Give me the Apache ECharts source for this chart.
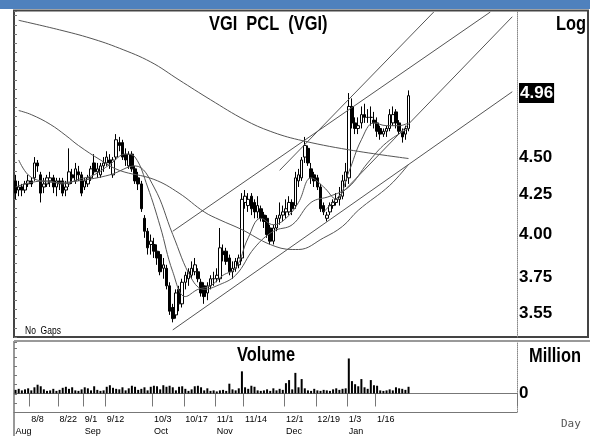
<!DOCTYPE html>
<html lang="en">
<head>
<meta charset="UTF-8"/>
<title>VGI PCL (VGI)</title>
<script src="https://cdn.jsdelivr.net/npm/echarts@6.0.0/dist/echarts.min.js"></script>
<style>
html, body { margin: 0; padding: 0; background: #fff; }
#main { width: 597px; height: 436px; }
</style>
</head>
<body>
<div id="main"></div>
<script type="text/javascript">
// trading days shown on the chart
var dates = [
  '8/1','8/2','8/3','8/4','8/5','8/8','8/9','8/10','8/11','8/15','8/16','8/17','8/18','8/19','8/22','8/23','8/24','8/25','8/26','8/29','8/30','8/31',
  '9/1','9/2','9/5','9/6','9/7','9/8','9/9','9/12','9/13','9/14','9/15','9/16','9/19','9/20','9/21','9/22','9/23','9/26','9/27','9/28','9/29','9/30',
  '10/3','10/4','10/5','10/6','10/7','10/10','10/11','10/12','10/13','10/14','10/17','10/18','10/19','10/20','10/21','10/25','10/26','10/27','10/28','10/31',
  '11/1','11/2','11/3','11/4','11/7','11/8','11/9','11/10','11/11','11/14','11/15','11/16','11/17','11/18','11/21','11/22','11/23','11/24','11/25','11/28','11/29','11/30',
  '12/1','12/2','12/6','12/7','12/8','12/9','12/13','12/14','12/15','12/16','12/19','12/20','12/21','12/22','12/23','12/26','12/27','12/28','12/29','12/30',
  '1/3','1/4','1/5','1/6','1/9','1/10','1/11','1/12','1/13','1/16','1/17','1/18','1/19','1/20','1/23','1/24','1/25','1/26','1/27','1/30'
];
var blankDays = 34; // empty room on the right of the price panel

// [open, close, low, high]
var ohlc = [
  [4.34,4.26,4.22,4.38],[4.28,4.30,4.24,4.34],[4.30,4.28,4.24,4.32],[4.28,4.32,4.26,4.34],[4.32,4.34,4.30,4.38],
  [4.34,4.32,4.30,4.36],[4.36,4.46,4.34,4.50],[4.46,4.44,4.40,4.48],[4.38,4.26,4.20,4.40],[4.30,4.32,4.26,4.36],
  [4.32,4.36,4.30,4.38],[4.34,4.36,4.30,4.40],[4.36,4.30,4.26,4.38],[4.30,4.34,4.24,4.36],[4.34,4.32,4.28,4.36],
  [4.34,4.26,4.24,4.36],[4.28,4.30,4.24,4.34],[4.32,4.40,4.30,4.56],[4.38,4.36,4.32,4.42],[4.34,4.42,4.32,4.46],
  [4.40,4.38,4.34,4.44],[4.38,4.26,4.24,4.40],
  [4.30,4.34,4.28,4.36],[4.32,4.36,4.30,4.38],[4.36,4.42,4.34,4.44],[4.46,4.40,4.38,4.52],[4.40,4.42,4.36,4.46],
  [4.38,4.44,4.36,4.46],[4.44,4.46,4.40,4.50],[4.46,4.50,4.44,4.54],[4.48,4.46,4.42,4.52],[4.38,4.48,4.36,4.50],
  [4.50,4.62,4.48,4.66],[4.60,4.58,4.54,4.64],[4.60,4.50,4.48,4.62],[4.52,4.48,4.44,4.56],[4.44,4.52,4.42,4.54],
  [4.52,4.42,4.40,4.54],[4.42,4.34,4.32,4.44],[4.36,4.32,4.28,4.40],[4.32,4.16,4.14,4.34],[4.10,4.02,3.98,4.12],
  [4.02,3.92,3.88,4.04],[3.94,3.96,3.88,4.00],
  [3.94,3.90,3.86,3.98],[3.90,3.86,3.82,3.94],[3.88,3.78,3.76,3.90],[3.80,3.82,3.74,3.86],[3.80,3.70,3.68,3.82],
  [3.70,3.56,3.54,3.72],[3.58,3.52,3.50,3.60],[3.54,3.66,3.52,3.68],[3.68,3.60,3.56,3.70],[3.60,3.72,3.58,3.74],
  [3.72,3.76,3.68,3.78],[3.74,3.78,3.70,3.80],[3.76,3.80,3.74,3.84],[3.78,3.82,3.76,3.86],[3.78,3.74,3.72,3.80],
  [3.72,3.66,3.64,3.74],[3.70,3.64,3.60,3.72],[3.66,3.70,3.62,3.72],[3.70,3.74,3.68,3.76],[3.74,3.74,3.70,3.78],
  [3.74,3.76,3.72,3.80],[3.74,3.92,3.72,4.04],[3.90,3.88,3.84,3.94],[3.90,3.84,3.82,3.92],[3.86,3.78,3.76,3.88],
  [3.78,3.80,3.74,3.84],[3.80,3.84,3.78,3.86],[3.82,3.86,3.80,3.88],[3.86,4.22,3.84,4.26],[4.20,4.24,4.16,4.28],
  [4.18,4.22,4.14,4.26],[4.24,4.16,4.12,4.26],[4.20,4.14,4.10,4.22],[4.14,4.18,4.10,4.24],[4.16,4.10,4.08,4.18],
  [4.12,4.08,4.04,4.14],[4.10,4.00,3.98,4.12],[4.04,3.96,3.94,4.06],[3.96,4.04,3.94,4.06],[4.04,4.10,4.02,4.12],
  [4.10,4.12,4.06,4.20],[4.12,4.14,4.08,4.18],
  [4.14,4.16,4.10,4.22],[4.14,4.20,4.12,4.24],[4.20,4.16,4.12,4.22],[4.18,4.36,4.16,4.40],[4.34,4.38,4.30,4.42],
  [4.36,4.48,4.34,4.50],[4.50,4.58,4.46,4.64],[4.56,4.46,4.44,4.58],[4.42,4.36,4.32,4.46],[4.38,4.34,4.30,4.40],
  [4.36,4.30,4.28,4.38],[4.30,4.16,4.14,4.32],[4.18,4.14,4.12,4.20],[4.10,4.12,4.08,4.14],[4.14,4.18,4.12,4.20],
  [4.18,4.20,4.16,4.22],[4.20,4.22,4.18,4.26],[4.22,4.24,4.18,4.30],[4.24,4.34,4.22,4.38],[4.34,4.40,4.30,4.46],
  [4.36,4.86,4.32,4.96],[4.86,4.74,4.70,4.92],[4.74,4.70,4.66,4.78],[4.70,4.72,4.66,4.78],[4.74,4.80,4.70,4.86],
  [4.80,4.78,4.74,4.88],[4.78,4.78,4.74,4.84],[4.78,4.78,4.72,4.86],[4.76,4.74,4.70,4.82],[4.74,4.68,4.64,4.78],
  [4.70,4.66,4.62,4.72],[4.66,4.68,4.64,4.70],[4.68,4.70,4.64,4.72],[4.70,4.80,4.68,4.84],[4.74,4.80,4.72,4.86],
  [4.82,4.74,4.70,4.84],[4.74,4.68,4.66,4.76],[4.68,4.64,4.60,4.70],[4.66,4.70,4.62,4.72],[4.70,4.94,4.68,4.98]
];

// volume, million shares
var volume = [
  0.7,0.9,0.6,0.8,1.0,0.6,1.2,1.7,1.4,0.8,0.5,0.6,0.9,0.5,0.7,1.1,1.3,0.9,1.2,0.6,0.5,0.8,
  1.2,1.0,0.6,1.4,0.7,0.5,0.6,1.3,1.6,1.1,0.9,0.8,1.2,0.6,1.0,1.5,1.3,0.7,0.9,1.2,0.6,1.3,
  1.5,1.4,0.8,1.6,1.3,1.5,1.2,0.6,1.3,1.4,0.9,0.5,0.8,1.4,1.5,1.2,0.6,1.0,0.5,0.6,
  0.4,0.6,0.7,0.5,1.9,0.8,0.6,1.0,4.3,1.2,0.9,1.5,1.3,0.6,0.5,0.6,0.8,0.5,1.0,0.6,0.9,0.7,
  2.0,2.6,0.8,4.0,1.2,2.8,1.0,0.6,0.5,0.9,0.6,0.5,0.7,0.6,0.5,0.8,1.0,0.7,0.9,1.0,
  6.8,2.4,1.8,1.4,2.8,1.2,0.9,2.6,1.6,1.5,0.6,0.5,0.6,0.8,0.6,1.2,1.0,0.9,0.7,1.3
];

// moving averages: [day index, price]
var maLong = [[1,5.54],[14,5.46],[24,5.39],[33,5.31],[43,5.20],[52,5.06],[62,4.91],[73,4.76],[81,4.68],[90,4.62],[106,4.55],[125,4.49]];
var maMid = [[1,4.83],[5,4.80],[11,4.73],[16,4.65],[20,4.58],[27,4.48],[33,4.41],[44,4.35],[52,4.26],[60,4.14],[65,4.09],[72,4.03],[81,3.94],[88,3.91],[90,3.91],[98,3.98],[104,4.05],[109,4.15],[119,4.31],[125,4.45]];
var maFast = [[0,4.30],[5,4.33],[10,4.34],[15,4.32],[20,4.35],[25,4.38],[30,4.45],[35,4.52],[38,4.50],[42,4.30],[46,4.05],[50,3.78],[54,3.64],[58,3.68],[62,3.70],[66,3.76],[70,3.80],[74,3.98],[78,4.10],[82,4.06],[86,4.10],[90,4.20],[94,4.36],[98,4.30],[102,4.22],[106,4.40],[110,4.62],[114,4.74],[118,4.72],[122,4.72],[125,4.74]];
var maSlow = [[1,4.48],[4,4.38],[8,4.34],[14,4.33],[20,4.34],[30,4.38],[38,4.44],[44,4.30],[50,4.00],[56,3.74],[60,3.68],[64,3.70],[70,3.76],[76,3.92],[82,4.02],[88,4.06],[94,4.20],[100,4.24],[106,4.30],[112,4.46],[118,4.60],[125,4.70]];

// trend lines: [[day index, price], [day index, price]]
var trendLines = [
  [[50,3.46],[158,4.97]],
  [[50,4.02],[151,5.61]],
  [[84,4.41],[133,5.61]],
  [[98,4.14],[158,5.57]]
];

var priceTicks = [3.55, 3.75, 4.00, 4.25, 4.50, 4.96];
var dateTicks = ['8/8','8/22','9/1','9/12','10/3','10/17','11/1','11/14','12/1','12/19','1/3','1/16'];
var monthStarts = ['8/1','9/1','10/3','11/1','12/1','1/3'];
var monthNames = ['Aug','Sep','Oct','Nov','Dec','Jan'];
var priceMin = 3.423, priceMax = 5.619;

var cats = dates.slice();
for (var i = 0; i < blankDays; i++) cats.push('+' + i);

var sans = "'Liberation Sans', Arial, sans-serif";
var ln = Math.log;

function lnPair(p) { return [p[0], ln(p[1])]; }

var series = [];
series.push({
  type: 'candlestick', xAxisIndex: 0, yAxisIndex: 0,
  data: ohlc.map(function (d) { return d.map(ln); }),
  barWidth: 3,
  itemStyle: { color: '#fff', color0: '#000', borderColor: '#000', borderColor0: '#000', borderWidth: 1 },
  silent: true
});
[maLong, maMid, maSlow, maFast].forEach(function (ma) {
  series.push({
    type: 'line', xAxisIndex: 0, yAxisIndex: 0, data: ma.map(lnPair),
    smooth: 0.4, symbol: 'none', silent: true,
    lineStyle: { color: '#555', width: 1 }
  });
});
trendLines.forEach(function (t) {
  series.push({
    type: 'line', xAxisIndex: 0, yAxisIndex: 0, data: t.map(lnPair),
    symbol: 'none', silent: true,
    lineStyle: { color: '#555', width: 1 }
  });
});
series.push({
  type: 'bar', xAxisIndex: 1, yAxisIndex: 2, data: volume,
  barWidth: 2, itemStyle: { color: '#000' }, silent: true
});

function label(text, x, y, size, bold, sx) {
  return { type: 'text', x: x, y: y, scaleX: sx || 1, silent: true,
    style: { text: text, font: (bold ? 'bold ' : '') + size + 'px ' + sans, fill: '#000' } };
}

var myChart = echarts.init(document.getElementById('main'));
var option = {
  backgroundColor: '#fff',
  animation: false,
  grid: [
    { left: 14, top: 11, width: 503, height: 326 },
    { left: 14, top: 342, width: 503, height: 71 }
  ],
  xAxis: [
    { type: 'category', gridIndex: 0, data: cats, boundaryGap: true,
      axisLine: { show: false }, axisTick: { show: false }, axisLabel: { show: false }, splitLine: { show: false } },
    { type: 'category', gridIndex: 1, data: cats, boundaryGap: true, position: 'bottom',
      axisLine: { show: true, lineStyle: { color: '#777', width: 1 } },
      axisTick: { show: true, length: 13, lineStyle: { color: '#777' },
        interval: function (idx, v) { return dateTicks.indexOf(v) >= 0; } },
      axisLabel: { show: true, margin: 3, fontSize: 9, color: '#000', fontFamily: sans, align: 'left',
        interval: function (idx, v) { return dateTicks.indexOf(v) >= 0; } },
      splitLine: { show: false } },
    { type: 'category', gridIndex: 1, data: cats, boundaryGap: true, position: 'bottom', offset: 13,
      axisLine: { show: true, lineStyle: { color: '#777', width: 1 } },
      axisTick: { show: false },
      axisLabel: { show: true, margin: 2, fontSize: 9, color: '#000', fontFamily: sans, align: 'left',
        interval: function (idx, v) { return monthStarts.indexOf(v) >= 0; },
        formatter: function (v) { return monthNames[monthStarts.indexOf(v)]; } },
      splitLine: { show: false } }
  ],
  yAxis: [
    { type: 'value', gridIndex: 0, position: 'right', min: ln(priceMin), max: ln(priceMax),
      splitLine: { show: false },
      axisLine: { show: true, lineStyle: { color: '#888', type: 'dotted' } },
      axisTick: { show: false },
      axisLabel: {
        show: true, margin: 2, color: '#000', fontSize: 17, fontWeight: 'bold', fontFamily: sans,
        customValues: priceTicks.map(ln),
        formatter: function (v) {
          var best = priceTicks[0];
          priceTicks.forEach(function (p) { if (Math.abs(ln(p) - v) < Math.abs(ln(best) - v)) best = p; });
          var s = best.toFixed(2);
          return best === priceTicks[priceTicks.length - 1] ? '{hl|' + s + '}' : s;
        },
        rich: { hl: { backgroundColor: '#000', color: '#fff', fontSize: 17, fontWeight: 'bold', fontFamily: sans, padding: [2, 1, 1, 1] } }
      } },
    { type: 'value', gridIndex: 0, position: 'left', min: 0, max: 35.5, interval: 1,
      splitLine: { show: false }, axisLine: { show: false }, axisLabel: { show: false },
      axisTick: { show: true, inside: true, length: 3, lineStyle: { color: '#777' } } },
    { type: 'value', gridIndex: 1, position: 'right', min: -3.6, max: 10,
      splitLine: { show: false },
      axisLine: { show: true, lineStyle: { color: '#888', type: 'dotted' } },
      axisTick: { show: false },
      axisLabel: { show: true, margin: 2, color: '#000', fontSize: 17, fontWeight: 'bold', fontFamily: sans,
        customValues: [0], formatter: function () { return '0'; } } },
    { type: 'value', gridIndex: 1, position: 'left', min: 0, max: 7.7, interval: 1,
      splitLine: { show: false }, axisLine: { show: false }, axisLabel: { show: false },
      axisTick: { show: true, inside: true, length: 3, lineStyle: { color: '#777' } } }
  ],
  graphic: [
    { type: 'rect', shape: { x: 0, y: 0, width: 590, height: 9 }, style: { fill: '#4f81bd' }, silent: true },
    { type: 'rect', shape: { x: 14, y: 10.5, width: 574, height: 326.5 }, style: { fill: 'none', stroke: '#444', lineWidth: 2 }, silent: true },
    { type: 'line', shape: { x1: 14, y1: 341, x2: 590, y2: 341 }, style: { stroke: '#999', lineWidth: 2 }, silent: true },
    { type: 'line', shape: { x1: 14, y1: 341, x2: 14, y2: 436 }, style: { stroke: '#999', lineWidth: 2 }, silent: true },
    label('VGI  PCL  (VGI)', 209, 14, 20, true, 0.82),
    label('Log', 556, 14, 20, true, 0.82),
    label('No  Gaps', 25, 326, 10, false, 0.85),
    label('Volume', 237, 345, 20, true, 0.82),
    label('Million', 529, 346, 20, true, 0.82),
    { type: 'text', x: 561, y: 419, silent: true, style: { text: 'Day', font: "11px 'DejaVu Sans Mono', monospace", fill: '#555' } }
  ],
  series: series
};
myChart.setOption(option);
</script>
</body>
</html>
